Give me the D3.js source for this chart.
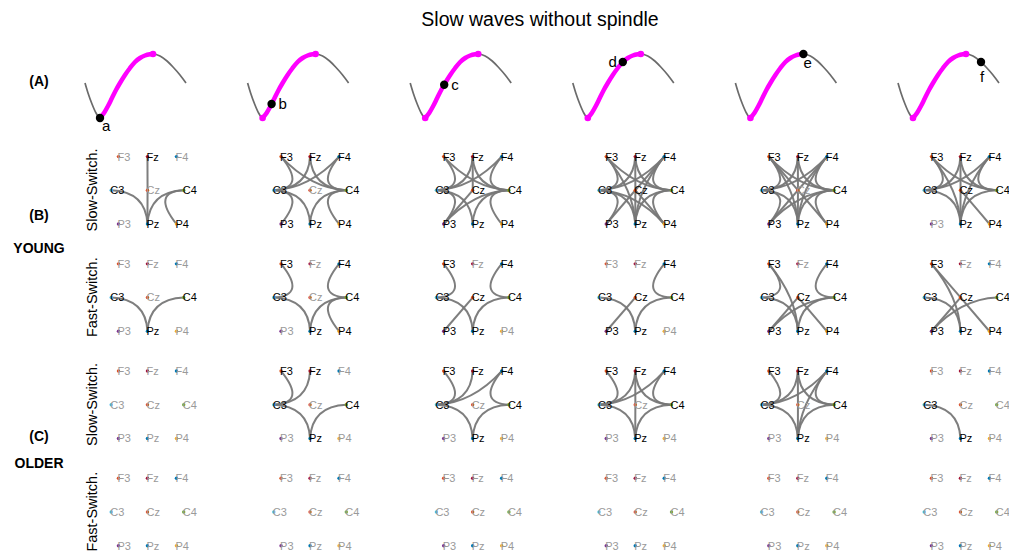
<!DOCTYPE html>
<html>
<head>
<meta charset="utf-8">
<script src="https://cdnjs.cloudflare.com/ajax/libs/d3/7.8.5/d3.min.js"></script>
<style>
  body { margin: 0; background: #fff; }
  svg { font-family: "Liberation Sans", Arial, Helvetica, sans-serif; }
</style>
</head>
<body>
<div id="chart"></div>
<script>
// svg size
var svgWidth = 1009;
var svgHeight = 555;

// electrodes + colours (matlab default palette)
var electrodes = ["F3", "Fz", "F4", "C3", "Cz", "C4", "P3", "Pz", "P4"];
var electrodeColors = ["#D95319", "#A2142F", "#0072BD", "#4DBEEE", "#D95319", "#77AC30", "#7E2F8E", "#0072BD", "#EDB120"];
// montage position (left/right, front/back)
var montageX = [-0.8, 0, 0.8, -1, 0, 1, -0.8, 0, 0.8];
var montageY = [-1, -1, -1, 0, 0, 0, 1, 1, 1];

// slow wave template (time, amplitude)
var waveTime = [0, 3, 7, 11, 15, 19, 23, 27, 31, 35, 40, 45, 50, 55, 60, 65, 68, 75, 82, 88, 95, 101];
var waveAmp  = [35, 25, 14, 5, 0, 5, 12, 20, 28, 35, 43, 50, 56, 60, 62.5, 63.7, 64, 62, 57, 51, 43, 35];
var troughTime = 15;
var peakTime = 68;

// phase points a..f
var phases = ["a", "b", "c", "d", "e", "f"];
var phaseTime = [15, 24, 34, 50, 68, 83];

// connections per phase
var youngSlowEdges = [
  ["Fz-Pz", "C3-Pz", "C4-Pz", "C4-P4"],
  ["F3-C3", "F3-C4", "Fz-C3", "Fz-C4", "F4-C3", "F4-C4", "C3-P3", "C3-Pz", "C4-Pz", "C4-P4"],
  ["F3-C3", "F3-C4", "Fz-C3", "Fz-C4", "Fz-Cz", "F4-C3", "F4-C4", "C3-P3", "C3-Pz", "C4-Pz", "C4-P4", "Cz-P3", "C4-P3"],
  ["F3-C3", "F3-C4", "F3-Pz", "Fz-C3", "Fz-C4", "Fz-Pz", "F4-C3", "F4-C4", "F4-P3", "F4-Pz", "C3-P3", "C3-Pz", "C3-P4", "C4-Pz", "C4-P4", "Cz-P4"],
  ["F3-C3", "F3-C4", "F3-Pz", "F3-P4", "Fz-C3", "Fz-C4", "Fz-Pz", "F4-C3", "F4-C4", "F4-P3", "F4-Pz", "C3-P3", "C3-Pz", "C4-Pz", "C4-P4", "C4-P3"],
  ["F3-C3", "F3-C4", "F3-Pz", "Fz-C3", "Fz-C4", "Fz-Pz", "F4-C3", "F4-C4", "F4-Pz", "C3-Pz", "C4-Pz", "Cz-P4"]
];
var youngFastEdges = [
  ["C3-Pz", "C4-Pz"],
  ["F3-C3", "F4-C4", "C3-Pz", "C4-Pz", "C4-P4"],
  ["F3-C3", "F4-C4", "C3-Pz", "C4-Pz", "Cz-P3"],
  ["F4-C4", "C3-Pz", "C4-Pz", "Cz-P3"],
  ["F3-C3", "F3-Pz", "F4-C4", "C3-Pz", "C4-Pz", "Cz-P3", "C4-P3", "Cz-P4"],
  ["F3-Pz", "F3-P4", "C3-Pz", "C4-P3", "Cz-P3"]
];
var olderSlowEdges = [
  [],
  ["F3-C3", "Fz-C3", "C3-Pz", "C4-Pz"],
  ["F3-C3", "Fz-C3", "F4-C3", "F4-C4", "C3-Pz", "C4-Pz"],
  ["F3-C3", "Fz-C3", "F4-C3", "Fz-C4", "F4-C4", "Fz-Pz", "C3-Pz", "C4-Pz"],
  ["F3-C3", "Fz-C3", "F4-C3", "Fz-C4", "F4-C4", "Fz-Pz", "F4-Pz", "C3-Pz", "C4-Pz"],
  ["C3-Pz"]
];
var olderFastEdges = [[], [], [], [], [], []];

var rowEdges = [youngSlowEdges, youngFastEdges, olderSlowEdges, olderFastEdges];
var rowNames = ["Slow-Switch.", "Fast-Switch.", "Slow-Switch.", "Fast-Switch."];

// create svg
var svg = d3.select("#chart")
            .append("svg")
            .attr("width", svgWidth)
            .attr("height", svgHeight);

// scales
var colX = d3.scaleLinear().domain([0, 5]).range([147.7, 960.7]);
var rowY = d3.scaleLinear().domain([0, 3]).range([190, 511.7]);
var montX = d3.scaleLinear().domain([-1, 1]).range([-36.5, 36]);
var montY = d3.scaleLinear().domain([-1, 1]).range([-33.4, 34]);

var waveX = d3.scaleLinear().domain([0, 100]).range([-62.7, 37.3]);
var waveY = d3.scaleLinear().domain([0, 64]).range([118, 54]);
var ampAt = d3.scaleLinear().domain(waveTime).range(waveAmp);

// title
svg.append("text")
   .attr("x", 540)
   .attr("y", 26)
   .attr("text-anchor", "middle")
   .style("font-size", "19.5px")
   .text("Slow waves without spindle");

// left labels
var sideLabels = [
  {t: "(A)", y: 81}, {t: "(B)", y: 215}, {t: "YOUNG", y: 248},
  {t: "(C)", y: 436}, {t: "OLDER", y: 463}
];
svg.selectAll(".side")
   .data(sideLabels)
   .enter()
   .append("text")
   .attr("class", "side")
   .attr("x", 39)
   .attr("y", d => d.y)
   .attr("dy", "0.36em")
   .attr("text-anchor", "middle")
   .style("font-size", "14px")
   .style("font-weight", "bold")
   .text(d => d.t);

// row labels (rotated)
rowNames.forEach(function(name, r) {
  svg.append("text")
     .attr("transform", `translate(92, ${rowY(r)}) rotate(-90)`)
     .attr("text-anchor", "middle")
     .attr("dy", "0.36em")
     .style("font-size", "14.5px")
     .text(name);
});

// waves
var waveLine = d3.line()
                 .x(d => waveX(d[0]))
                 .y(d => waveY(d[1]))
                 .curve(d3.curveMonotoneX);

var wavePts = waveTime.map((t, i) => [t, waveAmp[i]]);
var risingPts = wavePts.filter(d => d[0] >= troughTime && d[0] <= peakTime);

// label offsets for phase letters
var letterPos = [
  {dx: 2, dy: 13, anchor: "start"},
  {dx: 7, dy: 5, anchor: "start"},
  {dx: 7, dy: 5, anchor: "start"},
  {dx: -6, dy: 5, anchor: "end"},
  {dx: 0, dy: 14, anchor: "start"},
  {dx: -1, dy: 20, anchor: "start"}
];

phases.forEach(function(p, i) {
  var g = svg.append("g")
             .attr("transform", `translate(${colX(i)}, 0)`);

  g.append("path")
   .attr("d", waveLine(wavePts))
   .attr("fill", "none")
   .attr("stroke", "#6b6b6b")
   .attr("stroke-width", 1.7);

  g.append("path")
   .attr("d", waveLine(risingPts))
   .attr("fill", "none")
   .attr("stroke", "#ff00ff")
   .attr("stroke-width", 4.5)
   .attr("stroke-linecap", "round");

  g.selectAll(".mdot")
   .data([troughTime, peakTime])
   .enter()
   .append("circle")
   .attr("cx", d => waveX(d))
   .attr("cy", d => waveY(ampAt(d)))
   .attr("r", 3.3)
   .attr("fill", "#ff00ff");

  var px = waveX(phaseTime[i]);
  var py = waveY(ampAt(phaseTime[i]));
  g.append("circle")
   .attr("cx", px)
   .attr("cy", py)
   .attr("r", 4.2)
   .attr("fill", "#000");

  g.append("text")
   .attr("x", px + letterPos[i].dx)
   .attr("y", py + letterPos[i].dy)
   .attr("text-anchor", letterPos[i].anchor)
   .style("font-size", "15px")
   .text(p);
});

// network panels
function nodePos(name) {
  var k = electrodes.indexOf(name);
  return [montX(montageX[k]), montY(montageY[k])];
}

rowEdges.forEach(function(rowList, r) {
  rowList.forEach(function(edges, c) {
    var g = svg.append("g")
               .attr("transform", `translate(${colX(c)}, ${rowY(r)})`);

    // which electrodes have a link
    var active = {};
    edges.forEach(function(e) {
      var pair = e.split("-");
      active[pair[0]] = true;
      active[pair[1]] = true;
    });

    // links, bent toward the centre
    g.selectAll(".edge")
     .data(edges)
     .enter()
     .append("path")
     .attr("class", "edge")
     .attr("d", function(e) {
        var pair = e.split("-");
        var a = nodePos(pair[0]), b = nodePos(pair[1]);
        var cx = (a[0] + b[0]) / 2 * 0.1;
        var cy = (a[1] + b[1]) / 2 * 0.1;
        var path = d3.path();
        path.moveTo(a[0], a[1]);
        path.quadraticCurveTo(cx, cy, b[0], b[1]);
        return path.toString();
     })
     .attr("fill", "none")
     .attr("stroke", "#777")
     .attr("stroke-width", 2)
     .attr("stroke-opacity", 0.95);

    // electrode dots
    g.selectAll(".node")
     .data(electrodes)
     .enter()
     .append("circle")
     .attr("class", "node")
     .attr("cx", d => nodePos(d)[0])
     .attr("cy", d => nodePos(d)[1])
     .attr("r", 1.7)
     .attr("fill", (d, k) => electrodeColors[k]);

    // electrode labels
    g.selectAll(".lab")
     .data(electrodes)
     .enter()
     .append("text")
     .attr("class", "lab")
     .attr("x", d => nodePos(d)[0] - 1)
     .attr("y", d => nodePos(d)[1])
     .attr("dy", "0.36em")
     .style("font-size", "11px")
     .attr("fill", d => active[d] ? "#000" : "#9a9a9a")
     .text(d => d);
  });
});
</script>
</body>
</html>
